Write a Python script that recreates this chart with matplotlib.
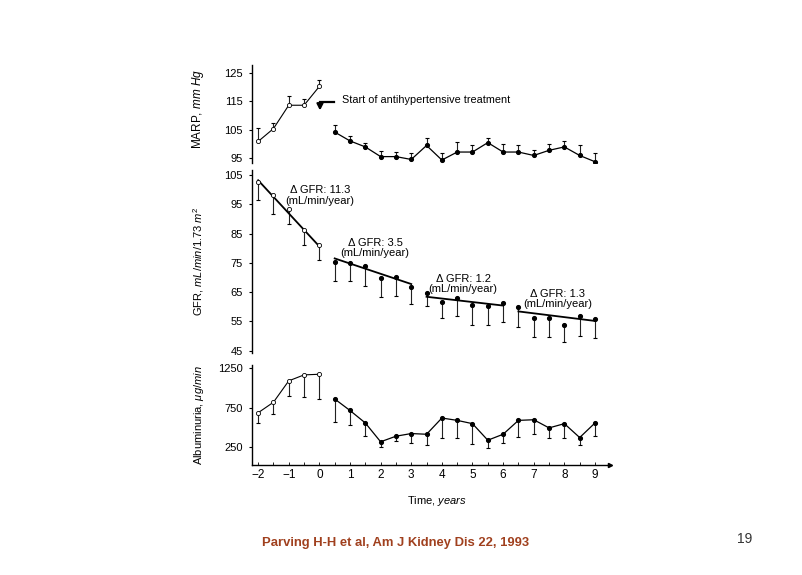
import matplotlib
matplotlib.use('Agg')
from matplotlib import pyplot as plt
import numpy as np

plt.rcParams['font.family'] = ['Liberation Sans', 'DejaVu Sans']
plt.rcParams['mathtext.fontset'] = 'custom'
plt.rcParams['mathtext.rm'] = 'Liberation Sans'
plt.rcParams['mathtext.it'] = 'Liberation Sans:italic'

# time points, years
t_pre = [-2, -1.5, -1, -0.5, 0]
t_post = [0.5, 1, 1.5, 2, 2.5, 3, 3.5, 4, 4.5, 5, 5.5, 6, 6.5, 7, 7.5, 8, 8.5, 9]
x_ticks = [-2, -1, 0, 1, 2, 3, 4, 5, 6, 7, 8, 9]

# MARP, mm Hg (mean and upper end of bar)
marp_pre = [100.9, 105.4, 113.6, 113.6, 120.2]
marp_pre_top = [105.7, 107.5, 117.0, 115.9, 122.3]
marp_post = [104.2, 101.1, 99.0, 95.6, 95.6, 94.6, 99.5, 94.4, 97.2, 97.2,
             100.5, 97.2, 97.2, 96.0, 97.8, 99.0, 96.0, 93.8]
marp_post_top = [106.6, 102.7, 100.2, 97.4, 97.2, 96.8, 102.0, 97.0, 100.7, 99.5,
                 102.2, 99.9, 99.5, 97.8, 99.9, 100.9, 99.5, 96.8]
marp_ticks = [95, 105, 115, 125]

# GFR, mL/min/1.73 m2 (mean and lower end of bar)
gfr_pre = [102.7, 98.0, 93.3, 86.3, 81.2]
gfr_pre_low = [96.5, 91.8, 88.4, 81.2, 76.1]
gfr_post = [75.2, 74.8, 73.9, 69.7, 70.2, 66.7, 64.6, 61.6, 63.1, 60.5,
            60.3, 61.2, 60.0, 56.1, 56.1, 53.8, 56.7, 55.8]
gfr_post_low = [68.8, 68.8, 67.1, 63.3, 63.7, 61.1, 60.3, 56.0, 56.9, 53.8,
                53.8, 54.8, 53.1, 49.5, 49.5, 47.8, 49.9, 49.2]
gfr_ticks = [45, 55, 65, 75, 85, 95, 105]

# regression segments: start, end, value at start, decline per year
fit_t0 = [-2, 0.5, 3.5, 6.5]
fit_t1 = [0, 3, 6, 9]
fit_y0 = [103.2, 76.5, 63.4, 58.4]
fit_slope = [11.3, 3.5, 1.2, 1.3]
fit_label_pos = [(0.02, 98.0), (1.82, 80.0), (4.69, 67.8), (7.79, 62.6)]

# Albuminuria, ug/min (mean and lower end of bar)
alb_pre = [683, 817, 1090, 1166, 1174]
alb_pre_low = [557, 662, 901, 880, 859]
alb_post = [859, 712, 553, 313, 384, 418, 409, 616, 586, 544,
            333, 409, 586, 594, 490, 544, 367, 553]
alb_post_low = [565, 523, 384, 250, 326, 292, 270, 355, 363, 279,
                229, 300, 376, 409, 363, 355, 270, 384]
alb_ticks = [250, 750, 1250]

W, H = 803, 575
fig = plt.figure(figsize=(W / 100, H / 100), dpi=100)


def rect(top_px, bottom_px, left_px=252, right_px=610):
    return [left_px / W, 1 - bottom_px / H, (right_px - left_px) / W,
            (bottom_px - top_px) / H]


def style(ax, ticks, ylim, label, bottom=False, label_y=0.5, label_size=8):
    ax.set_xlim(-2.2, 9.49)
    ax.set_ylim(*ylim)
    ax.set_yticks(ticks)
    for s in ['top', 'right']:
        ax.spines[s].set_visible(False)
    ax.spines['left'].set_linewidth(1.0)
    ax.tick_params(axis='y', direction='out', length=2.5, width=0.8,
                   labelsize=8, pad=4)
    if bottom:
        ax.spines['bottom'].set_linewidth(1.0)
        ax.set_xticks(x_ticks)
        ax.set_xticks(t_pre + t_post, minor=True)
        ax.tick_params(axis='x', which='both', direction='in', length=2,
                       width=0.6, labelsize=8.5, pad=3)
        ax.plot([1], [0], marker='>', ms=3, color='k', transform=ax.transAxes,
                clip_on=False)
    else:
        ax.spines['bottom'].set_visible(False)
        ax.set_xticks([])
    ax.set_ylabel(label, fontsize=label_size)
    ax.yaxis.set_label_coords(-0.128, label_y)


def bars(ax, t, y, end):
    ax.vlines(t, y, end, colors='#222222', linewidth=0.8, zorder=2)
    ax.plot(t, end, ls='none', marker='_', ms=3.5, mew=0.8, color='k', zorder=2)


open_kw = dict(marker='o', ms=3.0, mfc='white', mec='k', mew=0.6, zorder=3)
fill_kw = dict(marker='o', ms=2.7, mfc='k', mec='k', zorder=3)

# MARP panel
ax1 = fig.add_axes(rect(65, 162.6))
bars(ax1, t_pre, marp_pre, marp_pre_top)
bars(ax1, t_post, marp_post, marp_post_top)
ax1.plot(t_pre, marp_pre, color='k', lw=0.8, **open_kw)
ax1.plot(t_post, marp_post, color='k', lw=0.9, **fill_kw)
ax1.plot([0.48, 0.02], [114.8, 114.8], color='k', lw=1.6)
ax1.annotate('', xy=(0.02, 110.8), xytext=(0.02, 115.3),
             arrowprops=dict(arrowstyle='-|>,head_length=0.35,head_width=0.18',
                             color='k', lw=1.6))
ax1.text(0.73, 115.4, 'Start of antihypertensive treatment', fontsize=7.8,
         va='center', ha='left')
style(ax1, marp_ticks, (93.5, 127.7), r'MARP, $\mathit{mm\ Hg}$',
      label_y=0.55, label_size=8.5)

# GFR panel
ax2 = fig.add_axes(rect(170, 352.7))
bars(ax2, t_pre, gfr_pre, gfr_pre_low)
bars(ax2, t_post, gfr_post, gfr_post_low)
for t0, t1, y0, k, pos in zip(fit_t0, fit_t1, fit_y0, fit_slope, fit_label_pos):
    ax2.plot([t0, t1], [y0, y0 - k * (t1 - t0)], color='k', lw=1.3, zorder=2)
    ax2.text(pos[0], pos[1], f'\u0394 GFR: {k}\n(mL/min/year)', fontsize=8,
             ha='center', va='center', linespacing=1.05)
ax2.plot(t_pre, gfr_pre, ls='none', **open_kw)
ax2.plot(t_post, gfr_post, ls='none', **fill_kw)
style(ax2, gfr_ticks, (44.3, 106.7), r'GFR, $\mathit{mL/min/1.73\ m^2}$')

# Albuminuria panel
ax3 = fig.add_axes(rect(365, 465))
bars(ax3, t_pre, alb_pre, alb_pre_low)
bars(ax3, t_post, alb_post, alb_post_low)
ax3.plot(t_pre, alb_pre, color='k', lw=0.8, **open_kw)
ax3.plot(t_post, alb_post, color='k', lw=0.9, **fill_kw)
style(ax3, alb_ticks, (17, 1292), r'Albuminuria, $\mathit{\mu g/min}$', bottom=True)

fig.text(437 / W, 1 - 501 / H, r'Time, $\mathit{years}$', fontsize=8,
         ha='center', va='center')
fig.text(262 / W, 1 - 543 / H, 'Parving H-H et al, Am J Kidney Dis 22, 1993',
         fontsize=9.4, fontweight='bold', color='#A0401E', ha='left', va='center')
fig.text(745 / W, 1 - 539 / H, '19', fontsize=10, color='#333333',
         ha='center', va='center')

plt.savefig('out.png', dpi=100)
